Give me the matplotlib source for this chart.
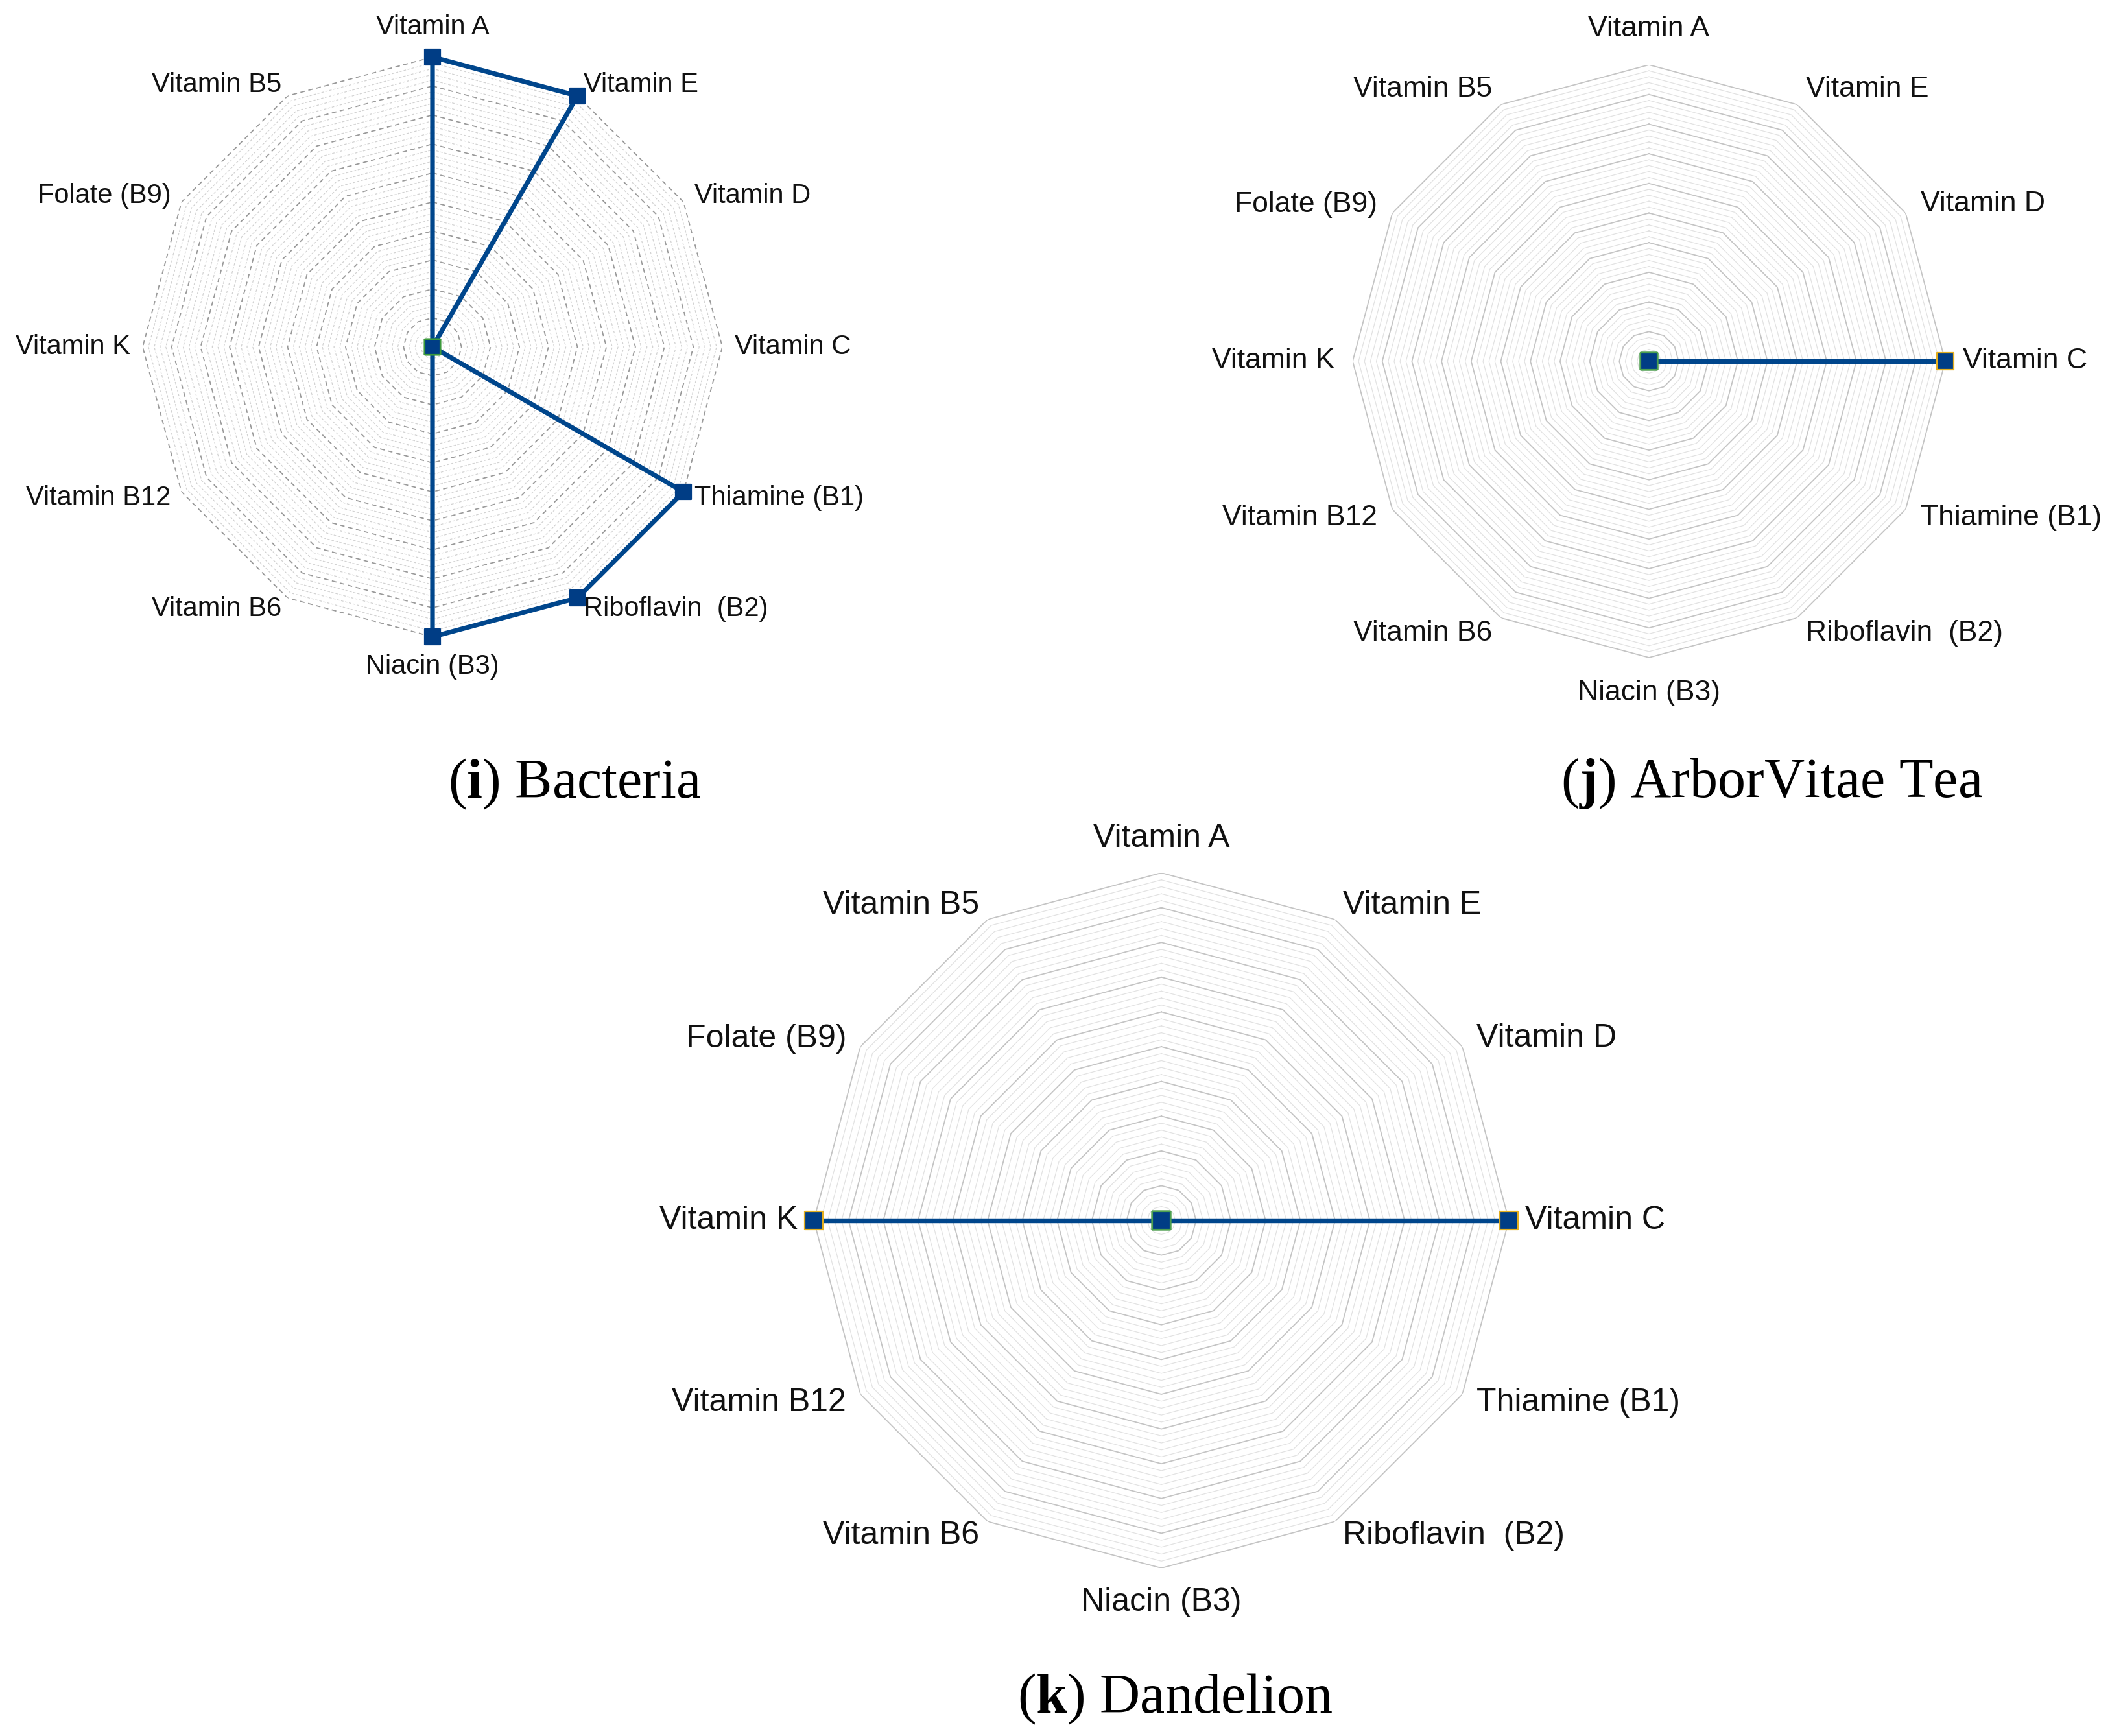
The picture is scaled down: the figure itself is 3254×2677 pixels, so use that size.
import numpy as np
import matplotlib
matplotlib.use('Agg')
import matplotlib.pyplot as plt

plt.rcParams['font.family'] = ['Liberation Sans', 'DejaVu Sans']
plt.rcParams['mathtext.fontset'] = 'custom'
plt.rcParams['mathtext.rm'] = 'Liberation Serif'
plt.rcParams['mathtext.bf'] = 'Liberation Serif:bold'

# vitamin axes, clockwise from the top
categories = ['Vitamin A', 'Vitamin E', 'Vitamin D', 'Vitamin C', 'Thiamine (B1)',
              'Riboflavin  (B2)', 'Niacin (B3)', 'Vitamin B6', 'Vitamin B12',
              'Vitamin K', 'Folate (B9)', 'Vitamin B5']

# presence of each vitamin (0 / 1)
bacteria = [1, 1, 0, 0, 1, 1, 1, 0, 0, 0, 0, 0]
arborvitae_tea = [0, 0, 0, 1, 0, 0, 0, 0, 0, 0, 0, 0]
dandelion = [0, 0, 0, 1, 0, 0, 0, 0, 0, 1, 0, 0]

panel_letters = ['i', 'j', 'k']
panel_names = ['Bacteria', 'ArborVitae Tea', 'Dandelion']

n_rings = 50      # minor gridlines
major_every = 5   # every 5th ring is darker

W, H = 3255, 2677
fig = plt.figure(figsize=(W / 100, H / 100), dpi=100)

line_col = '#00468C'
marker_col = '#003D85'


def radar(cx, cy, R, values, dashed, fsize, d_side, d_top, edge_on, edge_zero, msize, lw):
    # axes placed in pixels, center (cx, cy) from the top-left, radius R
    ax = fig.add_axes([(cx - R) / W, (H - cy - R) / H, 2 * R / W, 2 * R / H],
                      projection='polar')
    ax.set_theta_zero_location('N')
    ax.set_theta_direction(-1)
    ax.set_ylim(0, 1)
    ax.grid(False)
    ax.set_xticks([])
    ax.set_yticks([])
    ax.spines['polar'].set_visible(False)
    ax.patch.set_alpha(0)

    theta = np.linspace(0, 2 * np.pi, len(categories), endpoint=False)
    th_closed = np.append(theta, theta[0])

    # polygon gridlines
    for k in range(1, n_rings + 1):
        r = k / n_rings
        major = (k % major_every == 0)
        if dashed:
            col = '#9A9A9A' if major else '#D2D2D2'
            ls = (0, (4, 3)) if major else (0, (3, 2))
        else:
            col = '#C4C4C4' if major else '#E2E2E2'
            ls = '-'
        ax.plot(th_closed, [r] * len(th_closed), color=col, lw=1.3 if major else 0.9,
                ls=ls, zorder=1)

    vals = np.array(values, dtype=float)
    ax.plot(th_closed, np.append(vals, vals[0]), color=line_col, lw=lw,
            zorder=3, clip_on=False)
    edges = [edge_on if v > 0 else edge_zero for v in vals]
    order = np.argsort(vals)[::-1]
    ax.scatter(theta[order], vals[order], marker='s', s=msize, c=marker_col,
               edgecolors=[edges[i] for i in order], linewidths=1.6, zorder=4,
               clip_on=False)

    # category labels
    for th, lab in zip(theta, categories):
        sx, sy = np.sin(th), np.cos(th)
        if abs(sx) < 0.01:
            ha = 'center'
            d = d_top
        else:
            ha = 'left' if sx > 0 else 'right'
            d = d_side
        ax.annotate(lab, xy=(th, 1.0), xytext=(d * sx * 0.72, d * sy * 0.72),
                    textcoords='offset points', ha=ha, va='center',
                    fontsize=fsize, color='#111111', annotation_clip=False)
    return ax


radar(667, 535, 447, bacteria, True, 30, 19, 46, marker_col, '#3C9A3C', 290, 5.2)
radar(2543, 557, 457, arborvitae_tea, False, 32, 27, 55, '#E3AE1E', '#4CA050', 330, 4.8)
radar(1791, 1882, 536, dandelion, False, 36, 25, 53, '#E3AE1E', '#4CA050', 420, 5.2)

# panel captions
cap_pos = [(886, 1209), (2733, 1208), (1812, 2620)]
for (x, y), let, name in zip(cap_pos, panel_letters, panel_names):
    fig.text(x / W, 1 - y / H, '(' + r'$\mathbf{' + let + '}$' + ') ' + name,
             ha='center', va='center', fontsize=62, family='Liberation Serif')

fig.savefig('out.png', dpi=100)
